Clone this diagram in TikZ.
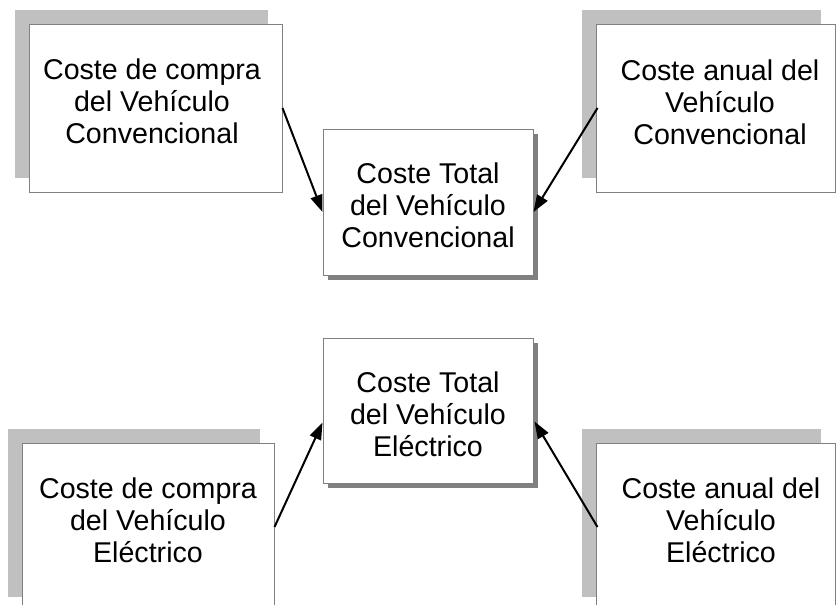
\documentclass[tikz,border=0pt]{standalone}
\usepackage{fontspec}
\setmainfont{Liberation Sans}
\usetikzlibrary{arrows.meta}
\definecolor{boxline}{RGB}{128,128,128}
\definecolor{lightshadow}{RGB}{192,192,192}
\definecolor{darkshadow}{RGB}{128,128,128}
\tikzset{
  box/.style={draw=boxline, line width=1pt, fill=white, rectangle, inner sep=0pt},
  lbl/.style={align=center, font=\fontsize{28.6}{32}\selectfont, inner sep=0pt},
  conn/.style={line width=2pt, -{Triangle[length=17pt,width=12pt]}},
}
\begin{document}
\begin{tikzpicture}[x=1pt,y=-1pt]
\useasboundingbox (0,0) rectangle (836,605);
% shadows
\fill[lightshadow] (15,10) rectangle (268,178);
\fill[lightshadow] (582,10) rectangle (821,178);
\fill[lightshadow] (8,429) rectangle (260,597);
\fill[lightshadow] (582,429) rectangle (821,597);
\fill[darkshadow] (328,134) rectangle (538,280);
\fill[darkshadow] (328,343) rectangle (538,488);
% boxes
\node[box, minimum width=253pt, minimum height=168pt] (tl) at (155.5,108) {};
\node[box, minimum width=239pt, minimum height=168pt] (tr) at (715.5,108) {};
\node[box, minimum width=210pt, minimum height=146pt] (ct) at (428,202) {};
\node[box, minimum width=210pt, minimum height=145pt] (cb) at (428,410.5) {};
\node[box, minimum width=252pt, minimum height=168pt] (bl) at (148,527) {};
\node[box, minimum width=239pt, minimum height=168pt] (br) at (715.5,527) {};
% texts
\node[lbl] (tlt) at (152,101) {Coste de compra\\del Vehículo\\Convencional};
\node[lbl] (trt) at (720,102) {Coste anual del\\Vehículo\\Convencional};
\node[lbl] (ctt) at (428,205) {Coste Total\\del Vehículo\\Convencional};
\node[lbl] (cbt) at (428,414.5) {Coste Total\\del Vehículo\\Eléctrico};
\node[lbl] (blt) at (148,520.5) {Coste de compra\\del Vehículo\\Eléctrico};
\node[lbl] (brt) at (721,520.5) {Coste anual del\\Vehículo\\Eléctrico};
% connectors
\draw[conn] (tl.east) -- ([yshift=-10pt]ct.west);
\draw[conn] ([xshift=2pt]tr.west) -- ([yshift=-10pt]ct.east);
\draw[conn] (bl.east) -- ([yshift=-12pt]cb.west);
\draw[conn] ([xshift=2pt]br.west) -- ([yshift=-11pt,xshift=1pt]cb.east);
\end{tikzpicture}
\end{document}
